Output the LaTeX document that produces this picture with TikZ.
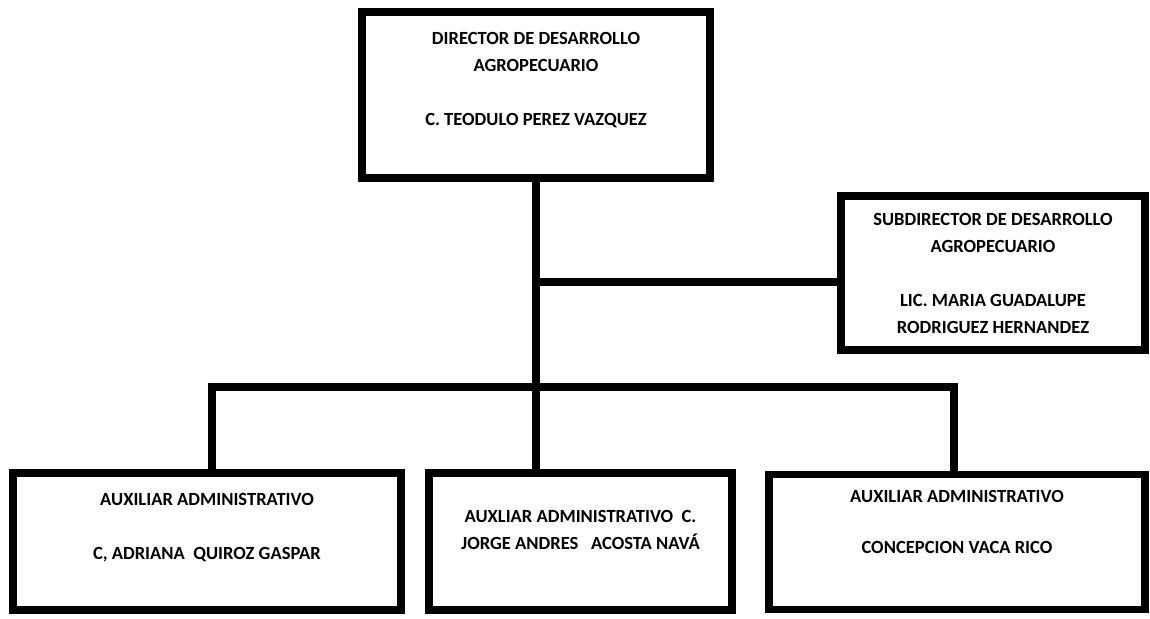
\documentclass[tikz,border=0pt]{standalone}
\usepackage{fontspec}
\setmainfont{Carlito}
\begin{document}
\begin{tikzpicture}[
x=0.025cm,y=-0.025cm,
box/.style={draw,line width=5.2pt,align=center,inner sep=0pt,font=\fontsize{13.2}{19.2}\selectfont\bfseries},
link/.style={line width=5.2pt}]
\useasboundingbox (0,0) rectangle (1150,618);
\node[box,minimum width=8.7cm,minimum height=4.15cm,text depth=22.8pt] (dir) at (536,95) {DIRECTOR DE DESARROLLO\\AGROPECUARIO\\[19.2pt]C. TEODULO PEREZ VAZQUEZ};
\node[box,minimum width=7.6cm,minimum height=3.85cm] (sub) at (993,273) {SUBDIRECTOR DE DESARROLLO\\AGROPECUARIO\\[19.2pt]LIC. MARIA GUADALUPE\\RODRIGUEZ HERNANDEZ};
\node[box,minimum width=9.7cm,minimum height=3.425cm,text depth=21pt] (aux1) at (207,541.5) {AUXILIAR ADMINISTRATIVO\\[19.2pt]C, ADRIANA~ QUIROZ GASPAR};
\node[box,minimum width=7.575cm,minimum height=3.425cm,text depth=17pt] (aux2) at (580.5,541.5) {AUXLIAR ADMINISTRATIVO~ C.\\JORGE ANDRES~~ ACOSTA NAVÁ};
\node[box,minimum width=9.4cm,minimum height=3.375cm,text depth=28pt] (aux3) at (957,542) {AUXILIAR ADMINISTRATIVO\\[17pt]CONCEPCION VACA RICO};
% junctions
\coordinate (j1) at (536,282);
\coordinate (busL) at (212,387);
\coordinate (busR) at (954,387);
\draw[link] (dir.south) -- (dir.south |- aux2.north);
\draw[link] (j1) -- (j1 -| sub.west);
\draw[link] (aux1.north -| busL) -- (busL) -- (busR) -- (aux3.north -| busR);
\end{tikzpicture}
\end{document}
